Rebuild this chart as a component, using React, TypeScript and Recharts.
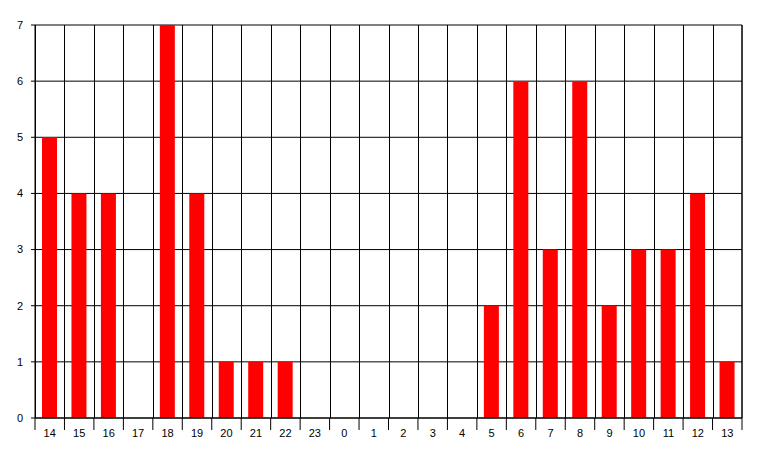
import React from "react";
import { BarChart, Bar, XAxis, YAxis, CartesianGrid } from "recharts";

// ── Data ──
const hours = ["14", "15", "16", "17", "18", "19", "20", "21", "22", "23", "0", "1", "2", "3", "4", "5", "6", "7", "8", "9", "10", "11", "12", "13"];
const counts = [5, 4, 4, 0, 7, 4, 1, 1, 1, 0, 0, 0, 0, 0, 0, 2, 6, 3, 6, 2, 3, 3, 4, 1];
const yTicks = [0, 1, 2, 3, 4, 5, 6, 7];

const data = hours.map((h, i) => ({ hour: h, count: counts[i] }));

const W = 777;
const H = 457;
const M = { top: 25, right: 0, bottom: 0, left: 0 };
const AXIS_W = 35;
const XAXIS_H = 39;
const plotLeft = AXIS_W;
const plotWidth = W - 2 * AXIS_W;
const step = plotWidth / hours.length;

const font = "Arial, 'Liberation Sans', sans-serif";

// ── X tick: boundary tick marks + centered label ──
function HourTick(props: any) {
  const { x, y, payload, index } = props;
  const left = x - step / 2;
  const right = x + step / 2;
  return (
    <g>
      <line x1={left} y1={y - 8} x2={left} y2={y + 4} stroke="#000" />
      {index === hours.length - 1 && (
        <line x1={right} y1={y - 8} x2={right} y2={y + 4} stroke="#000" />
      )}
      <text x={x} y={y + 11} textAnchor="middle" fontSize={11} fontFamily={font} fill="#000">
        {payload.value}
      </text>
    </g>
  );
}

export default function App() {
  return (
    <div style={{ position: "absolute", left: 0, top: 0, background: "#fff" }}>
      <BarChart width={W} height={H} data={data} margin={M} barCategoryGap={0}>
        <CartesianGrid
          yAxisId="l"
          stroke="#000"
          strokeOpacity={1}
          verticalCoordinatesGenerator={() =>
            hours.map((_, i) => Math.round(plotLeft + i * step) + 0.5).concat([plotLeft + plotWidth])
          }
        />
        <XAxis
          dataKey="hour"
          interval={0}
          height={XAXIS_H}
          axisLine={{ stroke: "#000" }}
          tickLine={false}
          tick={<HourTick />}
        />
        <YAxis
          yAxisId="l"
          orientation="left"
          width={AXIS_W}
          domain={[0, 7]}
          ticks={yTicks}
          interval={0}
          axisLine={{ stroke: "#000" }}
          tickLine={{ stroke: "#000" }}
          tickSize={4}
          tickMargin={8}
          tick={{ fontSize: 11, fontFamily: font, fill: "#000" }}
        />
        <YAxis
          yAxisId="r"
          orientation="right"
          width={AXIS_W}
          domain={[0, 7]}
          ticks={yTicks}
          interval={0}
          axisLine={{ stroke: "#000" }}
          tickLine={{ stroke: "#000" }}
          tickSize={4}
          tick={{ fontSize: 11, fontFamily: font, fill: "#000" }}
        />
        <Bar yAxisId="l" dataKey="count" fill="#ff0000" barSize={15} isAnimationActive={false} />
      </BarChart>
    </div>
  );
}
